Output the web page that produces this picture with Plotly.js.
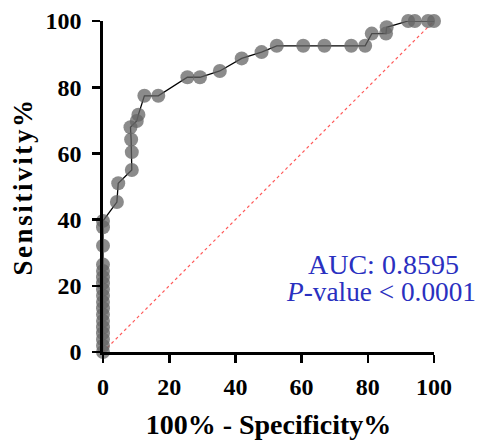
<!DOCTYPE html>
<html>
<head>
<meta charset="utf-8">
<script src="https://cdn.plot.ly/plotly-3.0.1.min.js"></script>
<style>html,body{margin:0;padding:0;background:#fff;}#chart{width:479px;height:440px;}
.ytitle{letter-spacing:2.6px;}</style>
</head>
<body>
<div id="chart"></div>
<script>
// ROC curve points: 100% - Specificity% (x) and Sensitivity% (y)
const fpr = [0,0,0,0,0,0,0,0,0,0,0,0,0,0,0,0,0,0,
  4.2,4.6,8.7,8.7,8.5,8.3,10.2,10.7,12.5,16.7,
  25.5,29.3,35.3,41.9,47.9,52.5,60.5,66.9,75.0,79.2,
  81.2,85.5,85.7,92.2,94.2,98.2,100];
const sens = [0,1.9,3.8,5.7,7.5,9.4,11.3,13.2,15.1,17.0,18.9,20.8,22.6,24.5,26.4,32.1,37.7,39.6,
  45.3,51.0,55.0,60.4,64.2,67.9,69.8,71.7,77.4,77.4,
  83.0,83.0,84.9,88.7,90.6,92.5,92.5,92.5,92.5,92.5,
  96.2,96.2,98.1,100,100,100,100];
const refX = [0,100];
const refY = [0,100];
const tickVals = [0,20,40,60,80,100];
const tickLabels = ["0","20","40","60","80","100"];
const aucText = "AUC: 0.8595";
const pText = "<i>P</i>-value < 0.0001";

const serif = "Liberation Serif";
const data = [
  {x: refX, y: refY, mode: 'lines', type: 'scatter',
   line: {color: '#ff5a5a', width: 1.2, dash: 'dot'}, hoverinfo: 'skip', cliponaxis: false},
  {x: fpr, y: sens, mode: 'lines+markers', type: 'scatter', cliponaxis: false,
   line: {color: '#000', width: 1.3},
   marker: {size: 14, color: 'rgba(100,100,100,0.75)', line: {width: 0}}}
];
function axis(extra) {
  return Object.assign({
    range: [0,100], tickmode: 'array', tickvals: tickVals,
    ticktext: tickLabels.map(t => '<b>' + t + '</b>'),
    showline: true, linecolor: '#000', linewidth: 2.6, ticks: 'outside', ticklen: 8,
    tickwidth: 2.6, tickcolor: '#000', showgrid: false, zeroline: false,
    tickfont: {family: serif, size: 24, color: '#000'}
  }, extra);
}
const layout = {
  width: 479, height: 440, showlegend: false,
  font: {family: serif, size: 24, color: '#000'},
  margin: {l: 103, r: 45, t: 21, b: 88},
  paper_bgcolor: '#fff', plot_bgcolor: '#fff',
  xaxis: axis({
    ticklabelstandoff: 4,
    title: {text: '<b>100% - Specificity%</b>', font: {family: serif, size: 28, color: '#000'}, standoff: 17}
  }),
  yaxis: axis({
    ticklabelstandoff: 6,
    title: {text: '<b>Sensitivity%</b>', font: {family: serif, size: 27, color: '#000'}, standoff: 5}
  }),
  annotations: [
    {x: 84.6, y: 26.3, xref: 'x', yref: 'y', text: aucText, showarrow: false,
     xanchor: 'center', yanchor: 'middle', font: {family: serif, size: 28, color: '#2a30c0'}},
    {x: 84.0, y: 18.1, xref: 'x', yref: 'y', text: pText, showarrow: false,
     xanchor: 'center', yanchor: 'middle', font: {family: serif, size: 27.3, color: '#2a30c0'}}
  ]
};
Plotly.newPlot('chart', data, layout, {displayModeBar: false, staticPlot: true});
</script>
</body>
</html>
